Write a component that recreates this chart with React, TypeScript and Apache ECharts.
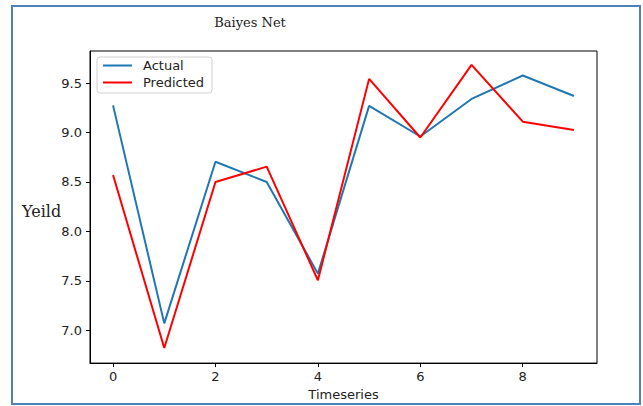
import React, { useEffect, useRef } from "react";
import * as echarts from "echarts";

const timesteps = [0, 1, 2, 3, 4, 5, 6, 7, 8, 9];
const actual = [9.275, 7.07, 8.705, 8.5, 7.573, 9.27, 8.96, 9.34, 9.577, 9.37];
const predicted = [8.57, 6.82, 8.5, 8.655, 7.506, 9.543, 8.95, 9.684, 9.11, 9.027];
const xTicks = [0, 2, 4, 6, 8];
const yTicks = [7.0, 7.5, 8.0, 8.5, 9.0, 9.5];

export default function App() {
  const ref = useRef<HTMLDivElement>(null);
  useEffect(() => {
    if (!ref.current) return;
    const chart = echarts.init(ref.current, null, { renderer: "svg" });
    const sans = "DejaVu Sans";
    const serif = "DejaVu Serif";
    chart.setOption({
      animation: false,
      backgroundColor: "#ffffff",
      grid: {
        left: 90,
        top: 51,
        right: 46,
        bottom: 41,
        show: true,
        borderColor: "#000",
        borderWidth: 1,
        backgroundColor: "transparent",
      },
      legend: {
        left: 97,
        top: 57,
        orient: "vertical",
        itemWidth: 29,
        itemHeight: 14,
        itemGap: 4,
        padding: [2, 8, 4, 5],
        backgroundColor: "#fff",
        borderColor: "#d0d0d0",
        borderWidth: 1,
        borderRadius: 3,
        itemStyle: { opacity: 0 },
        textStyle: { fontFamily: sans, fontSize: 13, color: "#222", padding: [0, 0, 0, 6] },
        data: ["Actual", "Predicted"],
      },
      xAxis: {
        type: "value",
        min: -0.45,
        max: 9.45,
        splitLine: { show: false },
        axisLine: { show: true, onZero: false, lineStyle: { color: "#000", width: 1 } },
        axisTick: { show: true, length: 4, customValues: xTicks, lineStyle: { color: "#000" } },
        axisLabel: {
          customValues: xTicks,
          fontFamily: sans,
          fontSize: 13,
          color: "#222",
          margin: 7,
          formatter: (v: number) => String(Math.round(v)),
        },
        name: "Timeseries",
        nameLocation: "middle",
        nameGap: 22,
        nameTextStyle: { fontFamily: sans, fontSize: 13, color: "#222" },
      },
      yAxis: {
        type: "value",
        min: 6.668,
        max: 9.825,
        splitLine: { show: false },
        axisLine: { show: true, onZero: false, lineStyle: { color: "#000", width: 1 } },
        axisTick: { show: true, length: 4, customValues: yTicks, lineStyle: { color: "#000" } },
        axisLabel: {
          customValues: yTicks,
          fontFamily: sans,
          fontSize: 13,
          color: "#222",
          margin: 8,
          formatter: (v: number) => v.toFixed(1),
        },
      },
      series: [
        {
          name: "Actual",
          type: "line",
          data: timesteps.map((t, i) => [t, actual[i]]),
          symbol: "none",
          lineStyle: { color: "#1f77b4", width: 2 },
          itemStyle: { color: "#1f77b4" },
        },
        {
          name: "Predicted",
          type: "line",
          data: timesteps.map((t, i) => [t, predicted[i]]),
          symbol: "none",
          lineStyle: { color: "#ff0000", width: 2 },
          itemStyle: { color: "#ff0000" },
        },
      ],
      graphic: [
        {
          type: "rect",
          shape: { x: 12, y: 6, width: 628, height: 398 },
          style: { fill: "none", stroke: "#4f81bd", lineWidth: 2 },
          silent: true,
        },
        {
          type: "text",
          x: 250,
          y: 22,
          style: {
            text: "Baiyes Net",
            fontFamily: serif,
            fontSize: 13,
            fill: "#222",
            textAlign: "center",
            textVerticalAlign: "middle",
          },
        },
        {
          type: "text",
          x: 22,
          y: 211,
          style: {
            text: "Yeild",
            fontFamily: serif,
            fontSize: 16,
            fill: "#222",
            textAlign: "left",
            textVerticalAlign: "middle",
          },
        },
      ],
    });
    return () => chart.dispose();
  }, []);
  return (
    <div
      ref={ref}
      style={{ position: "fixed", left: 0, top: 0, width: 643, height: 406 }}
    />
  );
}
